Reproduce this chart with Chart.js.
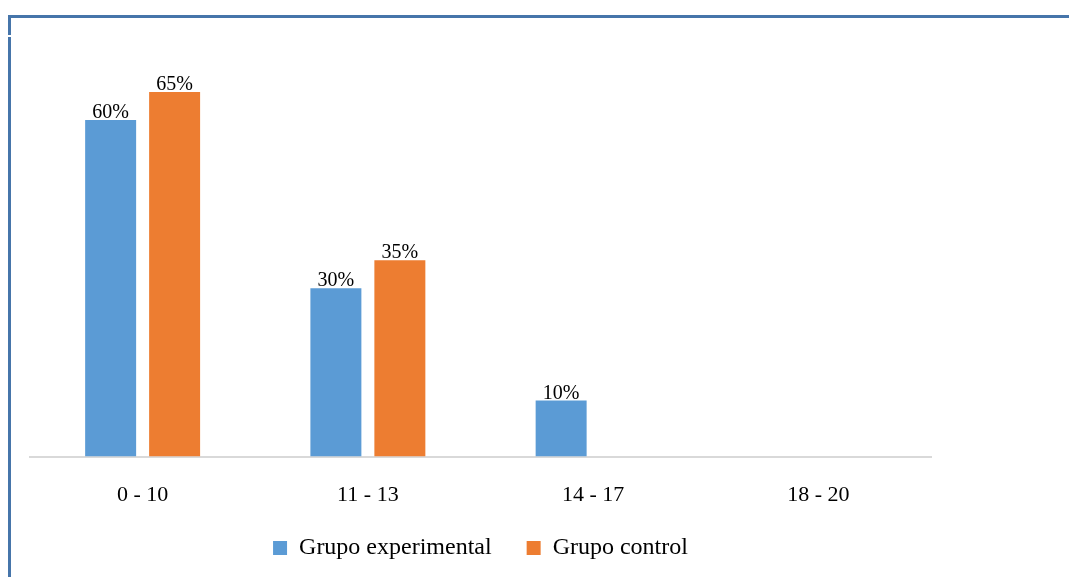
<!DOCTYPE html>
<html>
<head>
<meta charset="utf-8">
<script src="https://cdn.jsdelivr.net/npm/chart.js@4/dist/chart.umd.min.js"></script>
<style>
  html, body { margin: 0; padding: 0; background: #fff; }
  #frame { position: absolute; left: 8px; top: 15px; width: 1061px; height: 562px;
           border-top: 3px solid #4675aa; border-left: 3px solid #4675aa; box-sizing: border-box; }
  #notch { position: absolute; left: 8px; top: 35px; width: 3px; height: 2px; background: #fff; }
  #wrap { position: absolute; left: 0; top: 0; width: 1069px; height: 577px; }
</style>
</head>
<body>
<div id="frame"></div>
<div id="notch"></div>
<div id="wrap"><canvas id="chart" width="1069" height="577"></canvas></div>
<script>
// Score ranges and the share of students in each group
const categories = ['0 - 10', '11 - 13', '14 - 17', '18 - 20'];
const experimental = [60, 30, 10, 0];
const control = [65, 35, 0, 0];
const seriesNames = ['Grupo experimental', 'Grupo control'];

const serif = '"Liberation Serif", "Times New Roman", serif';
Chart.defaults.font.family = serif;
Chart.defaults.color = '#000';

// Percentage labels above every non-zero bar
const valueLabels = {
  id: 'valueLabels',
  afterDatasetsDraw(chart) {
    const ctx = chart.ctx;
    ctx.save();
    ctx.font = '20px ' + serif;
    ctx.fillStyle = '#000';
    ctx.textAlign = 'center';
    ctx.textBaseline = 'alphabetic';
    chart.data.datasets.forEach((ds, i) => {
      chart.getDatasetMeta(i).data.forEach((bar, j) => {
        const v = ds.data[j];
        if (!v) return;
        ctx.fillText(v + '%', bar.x, bar.y - 2);
      });
    });
    ctx.restore();
  }
};

new Chart(document.getElementById('chart'), {
  type: 'bar',
  data: {
    labels: categories,
    datasets: [
      { label: seriesNames[0], data: experimental, backgroundColor: '#5b9bd5', borderWidth: 0 },
      { label: seriesNames[1], data: control, backgroundColor: '#ed7d31', borderWidth: 0 }
    ]
  },
  options: {
    responsive: false,
    devicePixelRatio: 1,
    animation: false,
    layout: { padding: { left: 30, right: 138, top: 64, bottom: 7 } },
    datasets: { bar: { categoryPercentage: 0.568, barPercentage: 0.797 } },
    scales: {
      x: {
        grid: { display: false, drawTicks: true, tickLength: 32 },
        border: { display: true, color: '#d9d9d9', width: 2 },
        ticks: { font: { size: 22 }, color: '#000', padding: -7 }
      },
      y: { display: false, min: 0, max: 70 }
    },
    plugins: {
      legend: {
        position: 'bottom',
        fullSize: false,
        labels: { font: { size: 24 }, color: '#000', boxWidth: 14, boxHeight: 14, padding: 35 }
      },
      tooltip: { enabled: false }
    }
  },
  plugins: [valueLabels]
});
</script>
</body>
</html>
